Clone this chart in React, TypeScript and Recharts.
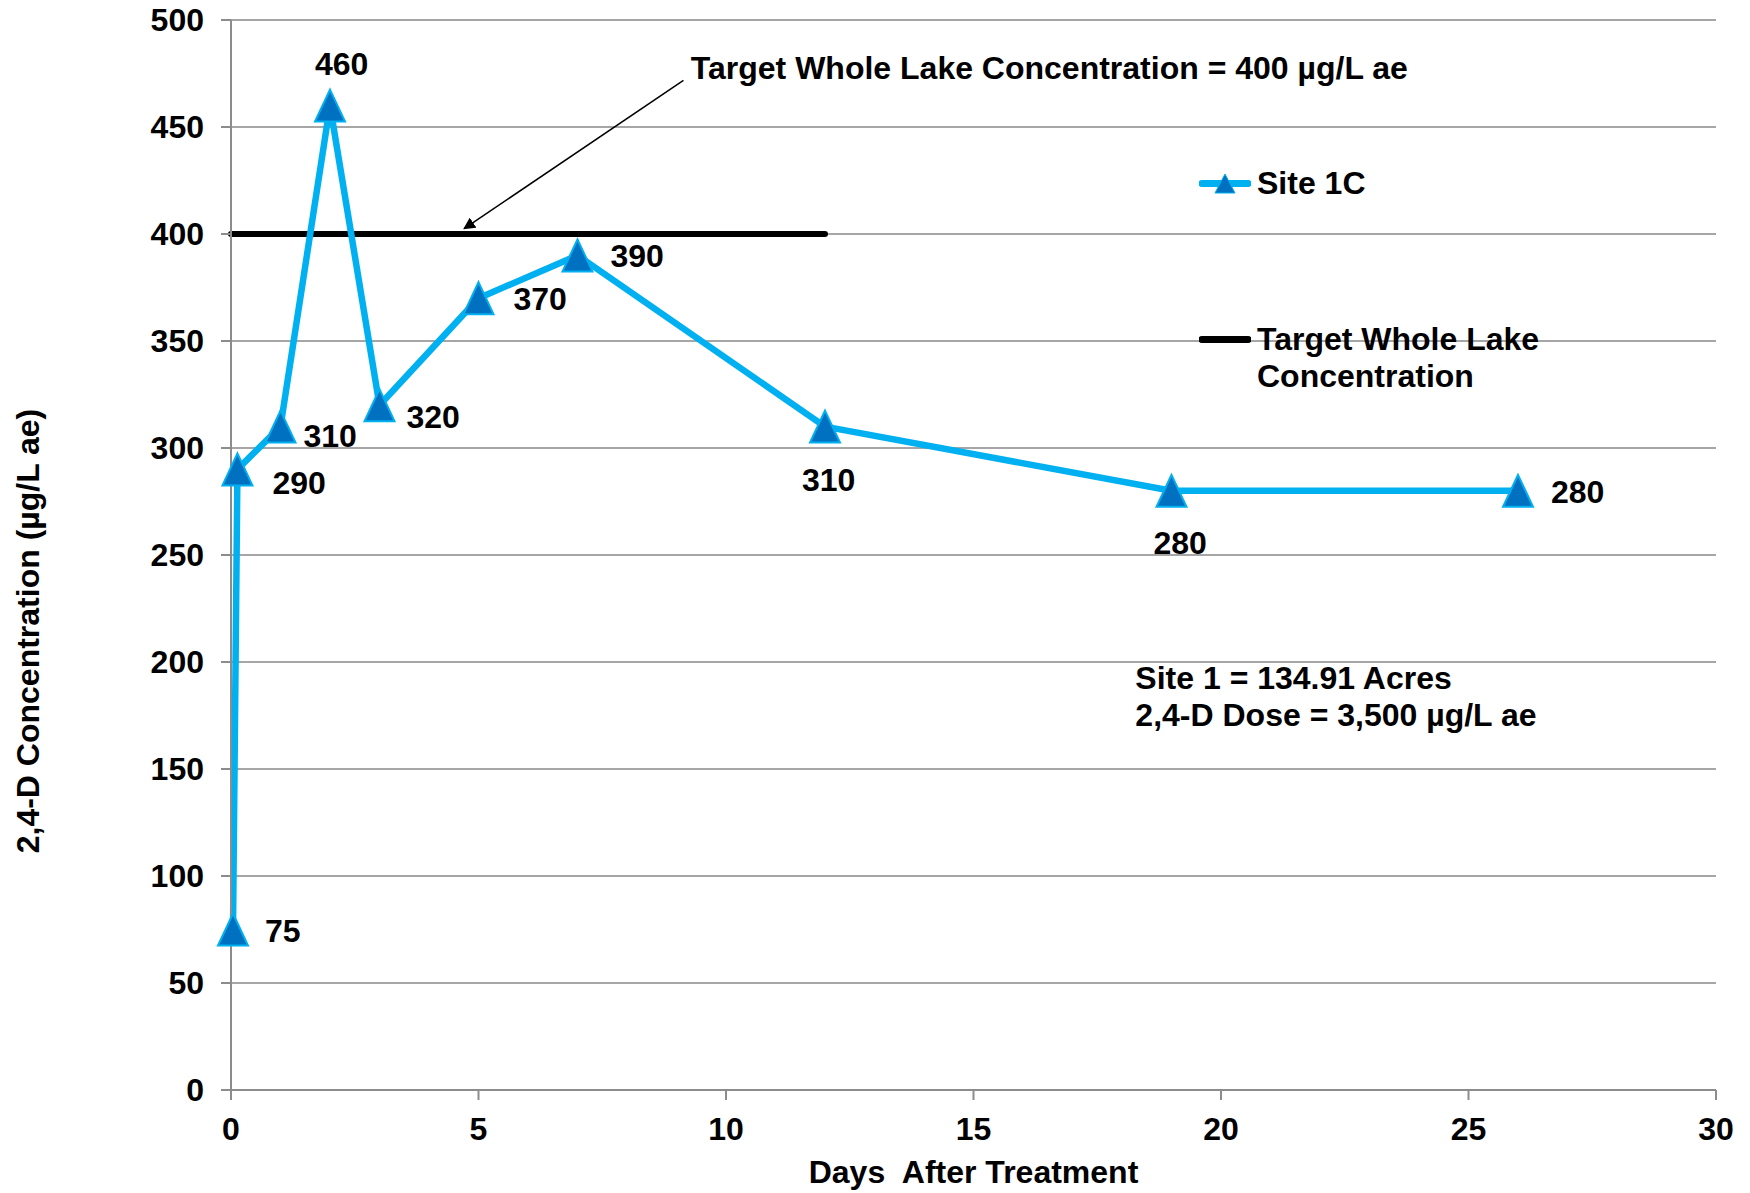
import {
  LineChart, Line, XAxis, YAxis, CartesianGrid, Legend, ReferenceLine, ReferenceDot, LabelList, Label,
} from 'recharts';

const FONT = '"Liberation Sans", Arial, sans-serif';
const FS = 32;

// Sampling days (days after treatment) and Site 1C concentrations (µg/L ae)
const days = [0.04, 0.13, 1, 2, 3, 5, 7, 12, 19, 26];
const site1C = [75, 290, 310, 460, 320, 370, 390, 310, 280, 280];

// Target whole lake concentration segment
const targetDays = [0, 12];
const targetValues = [400, 400];

const xTicks = [0, 5, 10, 15, 20, 25, 30];
const yTicks = [0, 50, 100, 150, 200, 250, 300, 350, 400, 450, 500];

// annotation text + arrow (data coordinates)
const calloutText = 'Target Whole Lake Concentration = 400 µg/L ae';
const calloutAnchor = { x: 9.29, y: 477.6 };
const arrowFrom = { x: 9.14, y: 471.8 };
const arrowTo = { x: 4.71, y: 402.5 };
const siteNote = ['Site 1 = 134.91 Acres', '2,4-D Dose = 3,500 µg/L ae'];
const siteNoteAnchor = { x: 18.27, y: 192.4 };

// pixel offsets of each value label from its marker (text-anchor start)
const labelOffsets: [number, number][] = [
  [32, 1], [35, 14], [23, 9], [-15, -42], [27, 12],
  [35, 1], [33, 1], [-23, 53], [-18, 52], [33, 1],
];

const siteRows = days.map((d, i) => ({ day: d, conc: site1C[i] }));
const targetRows = targetDays.map((d, i) => ({ day: d, conc: targetValues[i] }));

const BLUE = '#00B0F0';
const MARK = '#0070C0';
const GRID = '#A6A6A6';
const AXIS = '#8C8C8C';

const textStyle = { fontFamily: FONT, fontWeight: 'bold' as const, fontSize: FS, fill: '#000' };

// eslint-disable-next-line @typescript-eslint/no-explicit-any
function TriangleDot(props: any) {
  const { cx, cy, index } = props;
  if (cx == null || cy == null) return null;
  return (
    <polygon
      key={`tri-${index}`}
      points={`${cx},${cy - 16} ${cx + 15},${cy + 16} ${cx - 15},${cy + 16}`}
      fill={MARK}
      stroke={BLUE}
      strokeWidth={2}
      strokeLinejoin="miter"
    />
  );
}

// eslint-disable-next-line @typescript-eslint/no-explicit-any
function ValueLabel(props: any) {
  const { x, y, value, index } = props;
  const [dx, dy] = labelOffsets[index] ?? [30, 0];
  return (
    <text x={x + dx} y={y + dy} dominantBaseline="central" textAnchor="start" style={textStyle}>
      {value}
    </text>
  );
}

// eslint-disable-next-line @typescript-eslint/no-explicit-any
function LegendContent({ payload }: any) {
  const items = payload ?? [];
  return (
    <div style={{ fontFamily: FONT, fontWeight: 'bold', fontSize: FS, color: '#000', lineHeight: '37px' }}>
      {items.map((item: { value: string; color: string }, i: number) => {
        const isSite = item.value === 'Site 1C';
        return (
          <div key={item.value} style={{ display: 'flex', alignItems: 'flex-start', marginTop: i === 0 ? 0 : 119 }}>
            <svg width={52} height={37} style={{ flex: 'none' }}>
              <line x1={3} y1={18.5} x2={49} y2={18.5} stroke={isSite ? BLUE : '#000'} strokeWidth={7} strokeLinecap="round" />
              {isSite && <polygon points="26,9 36,28 16,28" fill={MARK} stroke={BLUE} strokeWidth={1} />}
            </svg>
            <span style={{ marginLeft: 6, maxWidth: 300 }}>{item.value}</span>
          </div>
        );
      })}
    </div>
  );
}

export default function App() {
  return (
    <div style={{ position: 'absolute', left: 0, top: 0, width: 1750, height: 1193, background: '#fff' }}>
      <LineChart width={1750} height={1193} margin={{ top: 20, right: 34, bottom: 0, left: 0 }}>
        <defs>
          <marker id="arrowHead" viewBox="0 0 10 10" refX="9" refY="5" markerWidth="12" markerHeight="12" markerUnits="userSpaceOnUse" orient="auto">
            <path d="M0,0 L10,5 L0,10 z" fill="#000" />
          </marker>
        </defs>
        <CartesianGrid vertical={false} stroke={GRID} strokeWidth={2} />
        <XAxis
          type="number"
          dataKey="day"
          domain={[0, 30]}
          ticks={xTicks}
          interval={0}
          height={103}
          stroke={AXIS}
          strokeWidth={2}
          tickSize={10}
          tickMargin={17}
          tick={{ ...textStyle }}
        >
          <Label
            value={'Days\u00a0 After Treatment'}
            position="insideBottom"
            offset={10}
            style={{ ...textStyle }}
          />
        </XAxis>
        <YAxis
          type="number"
          domain={[0, 500]}
          ticks={yTicks}
          interval={0}
          width={231}
          stroke={AXIS}
          strokeWidth={2}
          tickSize={10}
          tickMargin={17}
          tick={{ ...textStyle }}
        >
          <Label
            content={({ viewBox }: any) => {
              const cx = 28;
              const cy = viewBox ? viewBox.y + viewBox.height / 2 + 76 : 631;
              return (
                <text x={cx} y={cy} transform={`rotate(-90 ${cx} ${cy})`} textAnchor="middle" dominantBaseline="central" style={textStyle}>
                  2,4-D Concentration (µg/L ae)
                </text>
              );
            }}
          />
        </YAxis>
        <Legend
          layout="vertical"
          align="center"
          verticalAlign="middle"
          content={<LegendContent />}
          wrapperStyle={{ left: 1199, top: 165, width: 420 }}
        />
        <ReferenceLine
          segment={[arrowFrom, arrowTo]}
          ifOverflow="visible"
          shape={(p: any) => (
            <line x1={p.x1} y1={p.y1} x2={p.x2} y2={p.y2} stroke="#000" strokeWidth={1.5} markerEnd="url(#arrowHead)" />
          )}
        />
        <ReferenceDot
          x={calloutAnchor.x}
          y={calloutAnchor.y}
          ifOverflow="visible"
          shape={(p: any) => (
            <text x={p.cx} y={p.cy} dominantBaseline="central" textAnchor="start" style={textStyle}>
              {calloutText}
            </text>
          )}
        />
        <ReferenceDot
          x={siteNoteAnchor.x}
          y={siteNoteAnchor.y}
          ifOverflow="visible"
          shape={(p: any) => (
            <text x={p.cx} y={p.cy} dominantBaseline="central" textAnchor="start" style={textStyle}>
              {siteNote.map((s, i) => (
                <tspan key={s} x={p.cx} dy={i === 0 ? 0 : 37}>{s}</tspan>
              ))}
            </text>
          )}
        />
        <Line
          data={targetRows}
          dataKey="conc"
          name="Target Whole Lake Concentration"
          stroke="#000"
          strokeWidth={6}
          strokeLinecap="round"
          dot={false}
          activeDot={false}
          legendType="line"
          isAnimationActive={false}
        />
        <Line
          data={siteRows}
          dataKey="conc"
          name="Site 1C"
          stroke={BLUE}
          strokeWidth={6.5}
          strokeLinejoin="round"
          dot={<TriangleDot />}
          activeDot={false}
          isAnimationActive={false}
        >
          <LabelList dataKey="conc" content={<ValueLabel />} />
        </Line>
      </LineChart>
    </div>
  );
}
